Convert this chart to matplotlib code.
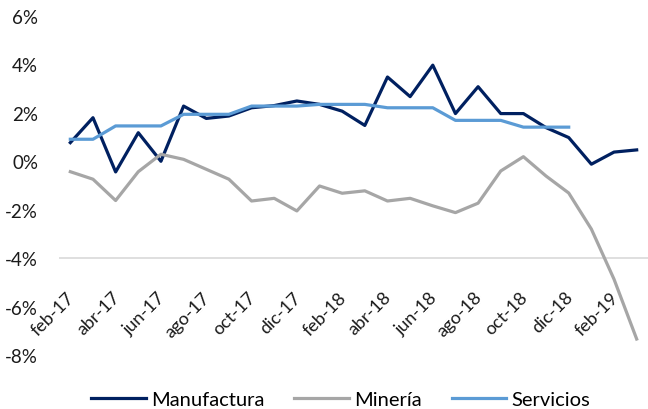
import matplotlib
matplotlib.use("Agg")
import matplotlib.pyplot as plt
import numpy as np

months = ["feb-17","mar-17","abr-17","may-17","jun-17","jul-17","ago-17","sep-17","oct-17","nov-17","dic-17","ene-18",
          "feb-18","mar-18","abr-18","may-18","jun-18","jul-18","ago-18","sep-18","oct-18","nov-18","dic-18","ene-19",
          "feb-19","mar-19"]
manufactura = [0.77, 1.80, -0.44, 1.18, 0.0, 2.28, 1.77, 1.87, 2.21, 2.30, 2.49, 2.35,
               2.07, 1.48, 3.48, 2.67, 3.97, 1.97, 3.08, 1.97, 1.97, 1.39, 0.98, -0.12, 0.38, 0.47]
mineria = [-0.43, -0.74, -1.62, -0.43, 0.29, 0.08, -0.33, -0.74, -1.64, -1.53, -2.05, -1.02,
           -1.32, -1.22, -1.64, -1.53, -1.84, -2.12, -1.73, -0.40, 0.19, -0.61, -1.31, -2.80, -4.87, -7.34]
servicios = [0.91, 0.91, 1.46, 1.46, 1.46, 1.94, 1.94, 1.94, 2.28, 2.28, 2.28, 2.35,
             2.35, 2.35, 2.21, 2.21, 2.21, 1.69, 1.69, 1.69, 1.41, 1.41, 1.41]
yticks = [6, 4, 2, 0, -2, -4, -6, -8]

plt.rcParams['font.family'] = ['Lato', 'DejaVu Sans']

fig = plt.figure(figsize=(6.48, 4.10), dpi=100)
ax = fig.add_axes([59/648, 1-356/410, (648-59)/648, (356-17)/410])

x = np.arange(len(months))
ax.plot(x, manufactura, color='#002060', lw=2.3, label='Manufactura')
ax.plot(x, mineria, color='#a6a6a6', lw=2.3, label='Minería')
ax.plot(np.arange(len(servicios)), servicios, color='#5b9bd5', lw=2.3, label='Servicios')

ax.axhline(-4, color='#d9d9d9', lw=1.2, zorder=0)

ax.set_xlim(-0.5, len(months) - 0.5)
ax.set_ylim(-8, 6)
ax.set_yticks(yticks)
ax.set_yticklabels([f"{v}%" for v in yticks], fontsize=13.5, color='#1a1a1a')
ax.tick_params(axis='y', length=0, pad=15)
ax.set_xticks([])
for s in ax.spines.values():
    s.set_visible(False)

# category labels below the axis line at -4%
for i in range(0, len(months), 2):
    ax.annotate(months[i], xy=(i, -4), xytext=(1, -26), textcoords='offset points',
                rotation=45, ha='right', va='center', rotation_mode='anchor',
                fontsize=13, color='#1a1a1a')

fig.legend(loc='center', bbox_to_anchor=(340.5/648, 1-400/410), ncol=3, frameon=False,
           fontsize=14.5, handlelength=2.7, columnspacing=1.5, handletextpad=0.25)

fig.savefig('out.png', dpi=100)
